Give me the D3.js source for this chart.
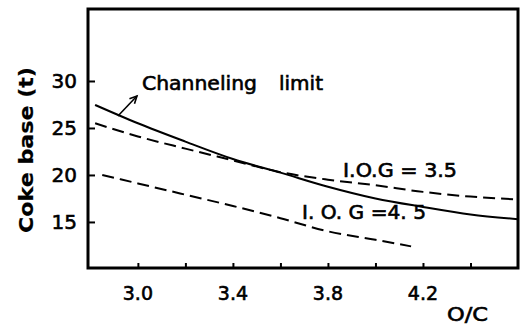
<!DOCTYPE html>
<html><head><meta charset="utf-8">
<script src="https://cdn.jsdelivr.net/npm/d3@7"></script>
<style>body{margin:0;background:#fff}svg{display:block}text{font-family:"DejaVu Sans",sans-serif;fill:#000;stroke:#000;stroke-width:0.6px}</style>
</head><body><svg id="c" width="527" height="324"></svg>
<script>
const xTicks = [3.0, 3.2, 3.4, 3.6, 3.8, 4.0, 4.2, 4.4];
const xTickLabels = ["3.0", "3.4", "3.8", "4.2"];
const yTicks = [15, 20, 25, 30];
const xChan = [2.82, 3.0, 3.2, 3.4, 3.6, 3.8, 4.0, 4.2, 4.4, 4.6];
const yChan = [27.45, 25.5, 23.55, 21.7, 20.25, 18.75, 17.5, 16.6, 15.8, 15.3];
const xIog35 = [2.82, 3.0, 3.2, 3.4, 3.6, 3.8, 4.0, 4.2, 4.4, 4.6];
const yIog35 = [25.5, 24.1, 22.8, 21.55, 20.3, 19.5, 18.9, 18.2, 17.7, 17.4];
const xIog45 = [2.85, 3.0, 3.2, 3.4, 3.6, 3.8, 4.0, 4.15];
const yIog45 = [20.0, 19.1, 17.9, 16.7, 15.4, 14.0, 13.1, 12.4];

const svg = d3.select("#c");
const L = 88, R = 518, T = 9, B = 268;
const x = d3.scaleLinear().domain([2.79, 4.60]).range([L, R]);
const y = d3.scaleLinear().domain([10.1, 37.66]).range([B, T]);

// ticks
svg.append("g").attr("transform", `translate(0,${B})`)
  .call(d3.axisTop(x).tickValues(xTicks).tickSize(5).tickFormat(""))
  .call(g => g.select(".domain").remove())
  .call(g => g.selectAll("line").attr("stroke", "#000").attr("stroke-width", 2));
svg.append("g").attr("transform", `translate(${L},0)`)
  .call(d3.axisRight(y).tickValues(yTicks).tickSize(7).tickFormat(""))
  .call(g => g.select(".domain").remove())
  .call(g => g.selectAll("line").attr("stroke", "#000").attr("stroke-width", 2));

// tick labels
svg.append("g").selectAll("text").data(xTickLabels).join("text")
  .attr("x", d => x(+d)).attr("y", B + 32).attr("text-anchor", "middle")
  .attr("font-size", 19).text(d => d);
svg.append("g").selectAll("text").data(yTicks).join("text")
  .attr("x", L - 11).attr("y", d => y(d) + 7).attr("text-anchor", "end")
  .attr("font-size", 20).text(d => d);

// frame
svg.append("rect").attr("x", L).attr("y", T).attr("width", R - L).attr("height", B - T)
  .attr("fill", "none").attr("stroke", "#000").attr("stroke-width", 3);

const line = d3.line().x(d => x(d[0])).y(d => y(d[1])).curve(d3.curveMonotoneX);
svg.append("path").datum(d3.zip(xChan, yChan)).attr("d", line)
  .attr("fill", "none").attr("stroke", "#000").attr("stroke-width", 2);
svg.append("path").datum(d3.zip(xIog35, yIog35)).attr("d", line)
  .attr("fill", "none").attr("stroke", "#000").attr("stroke-width", 2).attr("stroke-dasharray", "12 6");
svg.append("path").datum(d3.zip(xIog45, yIog45)).attr("d", line)
  .attr("fill", "none").attr("stroke", "#000").attr("stroke-width", 2).attr("stroke-dasharray", "12 6");

// arrow annotation
const a0 = [x(2.916), y(26.28)], a1 = [x(2.996), y(28.4)];
svg.append("line").attr("x1", a0[0]).attr("y1", a0[1]).attr("x2", a1[0]).attr("y2", a1[1])
  .attr("stroke", "#000").attr("stroke-width", 1.6);
const ang = Math.atan2(a1[1] - a0[1], a1[0] - a0[0]);
const hl = 8, hw = 0.45;
svg.append("path").attr("d",
  `M${a1[0] - hl * Math.cos(ang - hw)},${a1[1] - hl * Math.sin(ang - hw)}L${a1[0]},${a1[1]}L${a1[0] - hl * Math.cos(ang + hw)},${a1[1] - hl * Math.sin(ang + hw)}`)
  .attr("fill", "none").attr("stroke", "#000").attr("stroke-width", 1.6);

// labels
svg.append("text").attr("x", 142).attr("y", 90).attr("font-size", 19)
  .attr("textLength", 115).attr("lengthAdjust", "spacingAndGlyphs").text("Channeling");
svg.append("text").attr("x", 279).attr("y", 90).attr("font-size", 19)
  .attr("textLength", 44).attr("lengthAdjust", "spacingAndGlyphs").text("limit");
svg.append("text").attr("x", 343).attr("y", 177).attr("font-size", 19)
  .attr("textLength", 114).attr("lengthAdjust", "spacingAndGlyphs").text("I.O.G = 3.5");
svg.append("text").attr("x", 302).attr("y", 219).attr("font-size", 19)
  .attr("textLength", 124).attr("lengthAdjust", "spacingAndGlyphs").text("I. O. G =4. 5");
svg.append("text").attr("x", 447).attr("y", 321).attr("font-size", 19)
  .attr("textLength", 41).attr("lengthAdjust", "spacingAndGlyphs").text("O/C");
svg.append("text").attr("transform", "translate(33,150) rotate(-90)").attr("text-anchor", "middle")
  .attr("font-size", 20).attr("font-weight", "bold").style("stroke-width", "0.2px")
  .attr("textLength", 166).attr("lengthAdjust", "spacingAndGlyphs").text("Coke base (t)");
</script></body></html>
